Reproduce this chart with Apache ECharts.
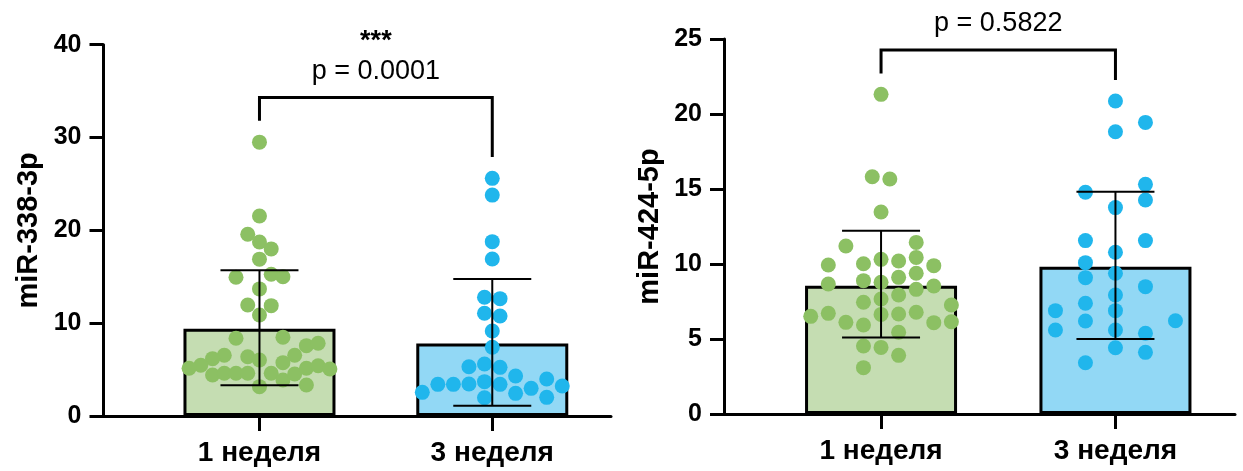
<!DOCTYPE html>
<html lang="ru">

<head>
    <meta charset="UTF-8">
    <title>miR-338-3p / miR-424-5p</title>
    <script src="https://cdn.jsdelivr.net/npm/echarts@6/dist/echarts.min.js"></script>
    <style>
        html, body { margin: 0; padding: 0; background: #fff; }
        #chart { width: 1243px; height: 471px; }
    </style>
</head>

<body>
    <div id="chart"></div>

    <script>
        // категории по оси X
        const categories = ['1 неделя', '3 неделя'];

        // ---- левая панель: miR-338-3p ----
        const yTicks338 = [0, 10, 20, 30, 40];
        const mean338 = [9.4, 7.8];
        const low338 = [3.3, 1.1];   // нижний край "усов"
        const high338 = [15.7, 14.75]; // верхний край "усов"
        const wk1_338 = [29.5, 21.55, 19.58, 18.75, 18.0, 16.9, 14.95, 15.27, 15.0, 13.69, 11.96, 11.89, 10.88,
            8.37, 8.48, 7.58, 7.83, 6.54, 6.18, 6.39, 6.03, 5.75, 6.54, 5.46, 5.14, 4.42, 4.6, 4.6, 4.6, 4.6,
            3.88, 4.53, 5.14, 5.42, 5.06, 3.16, 3.34];
        const wk1_338col = [0, 0, -1, 0, 1, 0, -2, 1, 2, 0, -1, 1, 0,
            -2, 2, 4, 5, -3, -4, -1, 0, 2, 3, -5, -6, -4, -3, -2, -1, 1,
            2, 3, 4, 5, 6, 0, 4];
        const wk3_338 = [25.6, 23.8, 18.78, 16.92, 12.79, 12.64, 11.07, 10.78, 9.16, 7.4, 5.31, 5.6, 5.24, 4.31,
            2.55, 3.41, 3.41, 3.45, 3.7, 3.41, 2.44, 2.98, 3.99, 2.01, 3.23, 1.97];
        const wk3_338col = [0, 0, 0, 0, -1, 1, -1, 1, 0, 0, -3, -1, 1, 3,
            -9, -7, -5, -3, -1, 1, 3, 5, 7, 7, 9, -1];
        const bracket338 = [34.3, 31.8, 27.9]; // верх, левый конец, правый конец
        const pText338 = ['***', 'p = 0.0001'];

        // ---- правая панель: miR-424-5p ----
        const yTicks424 = [0, 5, 10, 15, 20, 25];
        const mean424 = [8.55, 9.82];
        const low424 = [5.1, 5.0];
        const high424 = [12.22, 14.82];
        const wk1_424 = [21.31, 15.82, 15.67, 13.47, 11.2, 11.44, 9.93, 10.02, 10.31, 10.2, 10.44, 9.89,
            8.67, 8.89, 8.78, 9.11, 9.38, 8.53, 8.31, 7.67, 7.93, 7.45, 7.27, 6.51, 6.71, 6.11, 5.93,
            6.64, 6.67, 6.78, 6.09, 6.15, 5.45, 4.53, 4.44, 3.91, 3.09];
        const wk1_424col = [0, -0.5, 0.5, 0, -2, 2, -3, -1, 0, 1, 2, 3,
            -3, -1, 0, 1, 2, 3, 2, 0, 1, -1, 4, -4, -3, -2, -1,
            0, 1, 2, 3, 4, 1, -1, 0, 1, -1];
        const wk3_424 = [20.87, 19.44, 18.82, 15.31, 14.78, 14.27, 13.76, 11.56, 11.56, 10.78, 10.09, 9.38,
            9.09, 8.49, 7.93, 7.38, 6.89, 6.89, 6.2, 6.22, 5.6, 5.6, 5.38, 4.42, 4.11, 3.42];
        const wk3_424col = [0, 1, 0, 1, -1, 1, 0, -1, 1, 0, -1, 0,
            -1, 1, 0, -1, -2, 0, -1, 2, -2, 0, 1, 0, 1, -1];
        const bracket424 = [24.27, 22.7, 22.27];
        const pText424 = ['p = 0.5822'];

        const FONT = 'Liberation Sans, Arial, Helvetica, sans-serif';
        const GREEN = '#8cc063', BLUE = '#20b6ec';
        const FILLS = ['#c5ddb2', '#92d8f5'];

        let chart = echarts.init(document.getElementById('chart'), null, { renderer: 'canvas' });

        function xAxisFor(gi) {
            return {
                type: 'value', gridIndex: gi, min: 0.33, max: 2.51,
                axisLine: { show: true, onZero: false, lineStyle: { color: '#000', width: 3 } },
                axisTick: { show: true, customValues: [1, 2], length: 15, lineStyle: { color: '#000', width: 3 } },
                axisLabel: {
                    show: true, customValues: [1, 2], margin: 23,
                    formatter: v => categories[Math.round(v) - 1],
                    color: '#000', fontFamily: FONT, fontWeight: 'bold', fontSize: 28
                },
                splitLine: { show: false }
            };
        }

        function yAxisFor(gi, ticks, name) {
            return {
                type: 'value', gridIndex: gi,
                min: ticks[0], max: ticks[ticks.length - 1], interval: ticks[1] - ticks[0],
                name: name, nameLocation: 'middle', nameGap: 60,
                nameTextStyle: { color: '#000', fontFamily: FONT, fontWeight: 'bold', fontSize: 29 },
                axisLine: { show: true, lineStyle: { color: '#000', width: 3 } },
                axisTick: { show: true, length: 14, lineStyle: { color: '#000', width: 3 } },
                axisLabel: { margin: 22, color: '#000', fontFamily: FONT, fontWeight: 'bold', fontSize: 25 },
                splitLine: { show: false }
            };
        }

        function barSeries(gi, means) {
            return {
                type: 'bar', xAxisIndex: gi, yAxisIndex: gi, barWidth: 152, z: 1,
                itemStyle: { borderColor: '#000', borderWidth: 3 },
                data: means.map((m, i) => ({ value: [i + 1, m], itemStyle: { color: FILLS[i] } }))
            };
        }

        // точки: x = номер категории + сдвиг колонки роя
        function dotSeries(gi, cat, vals, cols, step, color) {
            return {
                type: 'scatter', xAxisIndex: gi, yAxisIndex: gi, z: 3,
                symbolSize: 15, itemStyle: { color: color, opacity: 1 },
                data: vals.map((v, i) => [cat + cols[i] * step, v])
            };
        }

        // усы: среднее +/- отклонение
        function errSeries(gi, low, high) {
            return {
                type: 'custom', xAxisIndex: gi, yAxisIndex: gi, z: 4, clip: false,
                data: low.map((l, i) => [i + 1, l, high[i]]),
                renderItem: function(params, api) {
                    let top = api.coord([api.value(0), api.value(2)]);
                    let bot = api.coord([api.value(0), api.value(1)]);
                    let w = 39;
                    let st = { stroke: '#000', lineWidth: 2 };
                    return {
                        type: 'group', children: [
                            { type: 'line', shape: { x1: top[0], y1: top[1], x2: bot[0], y2: bot[1] }, style: st },
                            { type: 'line', shape: { x1: top[0] - w, y1: top[1], x2: top[0] + w, y2: top[1] }, style: st },
                            { type: 'line', shape: { x1: bot[0] - w, y1: bot[1], x2: bot[0] + w, y2: bot[1] }, style: st }
                        ]
                    };
                }
            };
        }

        // скобка значимости с подписью
        function bracketSeries(gi, br, texts) {
            return {
                type: 'custom', xAxisIndex: gi, yAxisIndex: gi, z: 5, clip: false,
                data: [[1, 2, br[0], br[1], br[2]]],
                encode: { x: [0, 1], y: [2, 3, 4] },
                renderItem: function(params, api) {
                    let a = api.coord([api.value(0), api.value(3)]);
                    let b = api.coord([api.value(0), api.value(2)]);
                    let c = api.coord([api.value(1), api.value(2)]);
                    let d = api.coord([api.value(1), api.value(4)]);
                    let kids = [{
                        type: 'polyline',
                        shape: { points: [a, b, c, d] },
                        style: { stroke: '#000', lineWidth: 3, fill: null }
                    }];
                    let mid = (b[0] + c[0]) / 2;
                    texts.forEach((t, k) => {
                        let fromTop = texts.length - 1 - k;
                        let isStars = t.indexOf('*') === 0;
                        kids.push({
                            type: 'text',
                            style: {
                                text: t, x: mid, y: b[1] - 26 - fromTop * 30,
                                align: 'center', verticalAlign: 'middle',
                                fill: '#000', font: (isStars ? 'bold ' : '') + '27px ' + FONT
                            }
                        });
                    });
                    return { type: 'group', children: kids };
                }
            };
        }

        let option = {
            animation: false,
            backgroundColor: '#fff',
            grid: [
                { left: 103.5, top: 44.7, width: 507.5, height: 371.3 },
                { left: 724, top: 39, width: 511, height: 375 }
            ],
            xAxis: [xAxisFor(0), xAxisFor(1)],
            yAxis: [yAxisFor(0, yTicks338, 'miR-338-3p'), yAxisFor(1, yTicks424, 'miR-424-5p')],
            series: [
                barSeries(0, mean338),
                dotSeries(0, 1, wk1_338, wk1_338col, 0.0504, GREEN),
                dotSeries(0, 2, wk3_338, wk3_338col, 0.0334, BLUE),
                errSeries(0, low338, high338),
                bracketSeries(0, bracket338, pText338),

                barSeries(1, mean424),
                dotSeries(1, 1, wk1_424, wk1_424col, 0.075, GREEN),
                dotSeries(1, 2, wk3_424, wk3_424col, 0.128, BLUE),
                errSeries(1, low424, high424),
                bracketSeries(1, bracket424, pText424)
            ]
        };
        chart.setOption(option);
    </script>
</body>

</html>
